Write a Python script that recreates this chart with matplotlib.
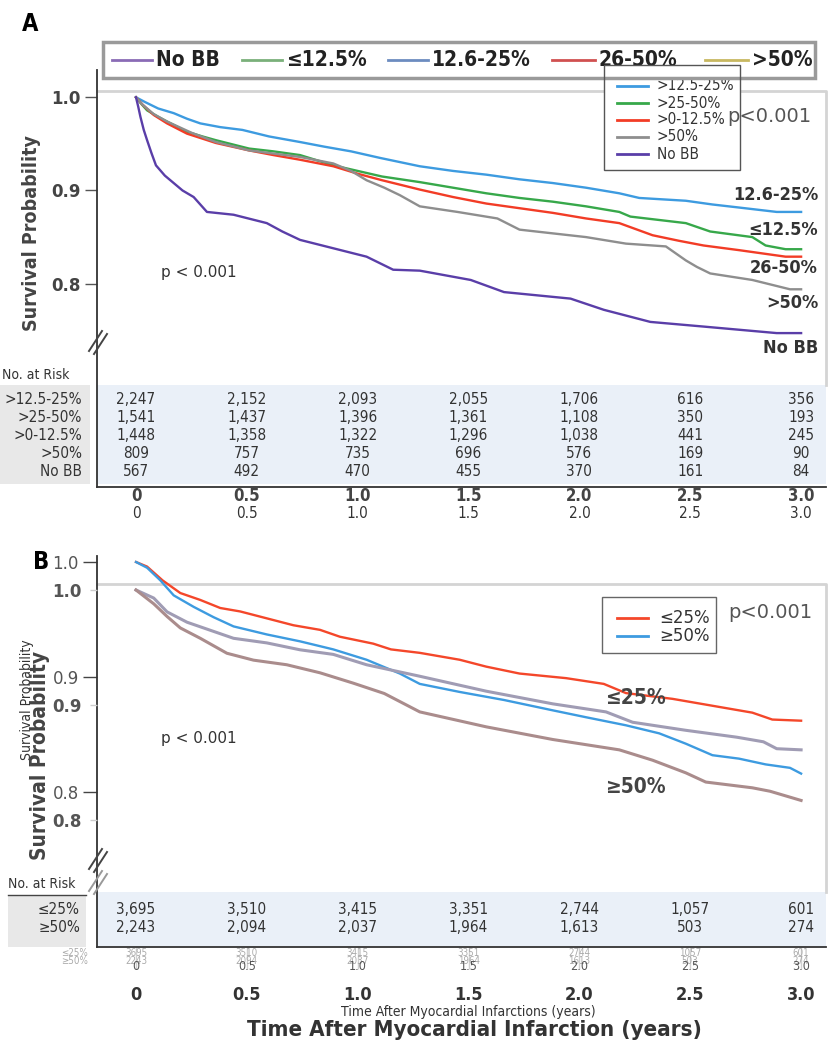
import matplotlib

matplotlib.use("Agg")
import matplotlib.pyplot as plt
import matplotlib.transforms as mtransforms
from matplotlib.lines import Line2D
from matplotlib.patches import Rectangle

# ---- data ----------------------------------------------------------------
years = [0, 0.5, 1.0, 1.5, 2.0, 2.5, 3.0]
year_labels = ["0", "0.5", "1.0", "1.5", "2.0", "2.5", "3.0"]

# panel A, five beta-blocker dose groups
a_names = [">12.5-25%", ">25-50%", ">0-12.5%", ">50%", "No BB"]
a_end_labels = ["12.6-25%", "≤12.5%", "26-50%", ">50%", "No BB"]

blue_a_t = [0, 0.04, 0.1, 0.17, 0.23, 0.29, 0.38, 0.48, 0.6, 0.74, 0.85, 0.97, 1.1, 1.28,
            1.43, 1.58, 1.73, 1.88, 2.03, 2.18, 2.27, 2.48, 2.6, 2.71, 2.89, 3.0]
blue_a_s = [1.0, 0.995, 0.988, 0.983, 0.977, 0.972, 0.968, 0.965, 0.958, 0.952, 0.947, 0.942,
            0.935, 0.926, 0.921, 0.917, 0.912, 0.908, 0.903, 0.897, 0.892, 0.889, 0.885, 0.882,
            0.877, 0.877]
green_a_t = [0, 0.02, 0.05, 0.1, 0.14, 0.23, 0.3, 0.36, 0.51, 0.62, 0.74, 0.89, 1.0, 1.11, 1.28,
             1.43, 1.58, 1.73, 1.88, 2.03, 2.18, 2.23, 2.48, 2.59, 2.78, 2.84, 2.93, 3.0]
green_a_s = [1.0, 0.994, 0.986, 0.979, 0.974, 0.963, 0.958, 0.954, 0.945, 0.942, 0.938, 0.927,
             0.921, 0.915, 0.909, 0.903, 0.897, 0.892, 0.888, 0.883, 0.877, 0.872, 0.865, 0.856,
             0.850, 0.841, 0.837, 0.837]
red_a_t = [0, 0.03, 0.08, 0.14, 0.23, 0.36, 0.51, 0.62, 0.74, 0.89, 1.0, 1.11, 1.28, 1.43, 1.58,
           1.73, 1.88, 2.03, 2.18, 2.33, 2.45, 2.56, 2.72, 2.81, 2.93, 3.0]
red_a_s = [1.0, 0.992, 0.981, 0.972, 0.961, 0.951, 0.943, 0.938, 0.933, 0.926, 0.918, 0.911,
           0.901, 0.893, 0.886, 0.881, 0.876, 0.870, 0.865, 0.852, 0.846, 0.841, 0.836, 0.833,
           0.829, 0.829]
gray_a_t = [0, 0.03, 0.08, 0.14, 0.25, 0.36, 0.51, 0.74, 0.89, 0.97, 1.04, 1.12, 1.19, 1.28, 1.45,
            1.63, 1.73, 2.03, 2.21, 2.39, 2.48, 2.53, 2.59, 2.78, 2.95, 3.0]
gray_a_s = [1.0, 0.992, 0.982, 0.974, 0.962, 0.952, 0.943, 0.936, 0.929, 0.921, 0.911, 0.903,
            0.895, 0.883, 0.877, 0.870, 0.858, 0.850, 0.843, 0.840, 0.825, 0.818, 0.811, 0.804,
            0.794, 0.794]
purple_a_t = [0, 0.01, 0.02, 0.035, 0.05, 0.07, 0.09, 0.13, 0.17, 0.21, 0.26, 0.32, 0.44, 0.59,
              0.66, 0.74, 0.89, 1.04, 1.16, 1.28, 1.51, 1.66, 1.96, 2.11, 2.32, 2.56, 2.89, 3.0]
purple_a_s = [1.0, 0.99, 0.979, 0.965, 0.954, 0.94, 0.927, 0.916, 0.908, 0.90, 0.893, 0.877,
              0.874, 0.865, 0.856, 0.847, 0.838, 0.829, 0.815, 0.814, 0.804, 0.791, 0.784, 0.772,
              0.759, 0.754, 0.747, 0.747]

risk_a = [
    [2247, 2152, 2093, 2055, 1706, 616, 356],
    [1541, 1437, 1396, 1361, 1108, 350, 193],
    [1448, 1358, 1322, 1296, 1038, 441, 245],
    [809, 757, 735, 696, 576, 169, 90],
    [567, 492, 470, 455, 370, 161, 84],
]
top_legend_names = ["No BB", "≤12.5%", "12.6-25%", "26-50%", ">50%"]

# panel B, two dose groups
b_names = ["≤25%", "≥50%"]
red_b_t = [0, 0.05, 0.12, 0.2, 0.29, 0.38, 0.47, 0.59, 0.71, 0.83, 0.92, 1.07, 1.15, 1.28, 1.46,
           1.58, 1.73, 1.94, 2.11, 2.21, 2.42, 2.57, 2.78, 2.87, 3.0]
red_b_s = [1.0, 0.996, 0.984, 0.973, 0.967, 0.960, 0.957, 0.951, 0.945, 0.941, 0.935, 0.929,
           0.924, 0.921, 0.915, 0.909, 0.903, 0.899, 0.894, 0.886, 0.881, 0.876, 0.869, 0.863,
           0.862]
blue_b_t = [0, 0.05, 0.11, 0.17, 0.26, 0.35, 0.44, 0.59, 0.74, 0.89, 1.04, 1.19, 1.28, 1.46, 1.66,
            1.88, 2.03, 2.21, 2.36, 2.48, 2.6, 2.72, 2.84, 2.95, 3.0]
blue_b_s = [1.0, 0.995, 0.984, 0.971, 0.961, 0.952, 0.944, 0.937, 0.931, 0.924, 0.915, 0.903,
            0.894, 0.887, 0.880, 0.871, 0.865, 0.858, 0.851, 0.842, 0.832, 0.829, 0.824, 0.821,
            0.816]
# faint second copy of panel B curves (own axis, shifted down)
ghost_hi_t = [0, 0.08, 0.14, 0.23, 0.35, 0.44, 0.59, 0.74, 0.89, 1.04, 1.28, 1.58, 1.88, 2.12,
              2.24, 2.48, 2.71, 2.83, 2.89, 3.0]
ghost_hi_s = [1.0, 0.993, 0.981, 0.972, 0.964, 0.958, 0.954, 0.948, 0.944, 0.935, 0.925, 0.912,
              0.901, 0.894, 0.885, 0.878, 0.872, 0.868, 0.862, 0.861]
ghost_lo_t = [0, 0.08, 0.14, 0.2, 0.29, 0.41, 0.53, 0.68, 0.83, 0.98, 1.12, 1.28, 1.58, 1.88,
              2.18, 2.33, 2.48, 2.57, 2.78, 2.86, 2.93, 3.0]
ghost_lo_s = [1.0, 0.988, 0.977, 0.967, 0.958, 0.945, 0.939, 0.935, 0.928, 0.919, 0.910, 0.894,
              0.881, 0.870, 0.861, 0.852, 0.841, 0.833, 0.828, 0.825, 0.821, 0.817]

risk_b = [
    [3695, 3510, 3415, 3351, 2744, 1057, 601],
    [2243, 2094, 2037, 1964, 1613, 503, 274],
]

# ---- layout helpers (pixel positions on an 840x1050 canvas) ---------------
W, H = 840, 1050
NK = dict(family="DejaVu Sans", stretch="condensed")
X0_PX, PX_PER_YEAR = 136, 221.7
AX_LEFT, AX_RIGHT = 97, 826


def fx(x):
    return x / W


def fy(y):
    return 1 - y / H


fig = plt.figure(figsize=(W / 100, H / 100), dpi=100)


def add_rect(x0, y0, x1, y1, **kw):
    r = Rectangle((fx(x0), fy(y1)), (x1 - x0) / W, (y1 - y0) / H,
                  transform=fig.transFigure, **kw)
    fig.add_artist(r)


def add_line(xs, ys, **kw):
    fig.add_artist(Line2D([fx(x) for x in xs], [fy(y) for y in ys],
                          transform=fig.transFigure, **kw))


def make_axes(top_px, bottom_px, s_top_px, px_per_unit):
    ax = fig.add_axes([fx(AX_LEFT), fy(bottom_px), (AX_RIGHT - AX_LEFT) / W,
                       (bottom_px - top_px) / H])
    ax.set_facecolor("none")
    ax.set_xlim((AX_LEFT - X0_PX) / PX_PER_YEAR, (AX_RIGHT - X0_PX) / PX_PER_YEAR)
    ax.set_ylim(1 - (bottom_px - s_top_px) / px_per_unit, 1 + (s_top_px - top_px) / px_per_unit)
    return ax


def break_marks(x, y, color="#444"):
    add_line([x - 9, x + 4], [y + 11, y - 9], color=color, lw=1.4)
    add_line([x - 4, x + 9], [y + 14, y - 6], color=color, lw=1.4)


# ======================= PANEL A ==========================================
axA = make_axes(70, 487, 97.3, 932)
trA = mtransforms.blended_transform_factory(axA.transData, fig.transFigure)

fig.text(fx(22), fy(24), "A", fontsize=17, fontweight="bold", va="center", **NK)

# light grey frame + risk table bands
add_line([AX_LEFT, AX_RIGHT, AX_RIGHT], [91, 91, 385], color="#d4d4d4", lw=2, zorder=-1)
add_rect(AX_LEFT, 385, AX_RIGHT, 484, facecolor="#eaf0f8", edgecolor="none", zorder=-2)
add_rect(0, 385, 90, 484, facecolor="#e8e8e8", edgecolor="none", zorder=-2)

a_series = [
    (blue_a_t, blue_a_s, "#3d9be0"),
    (green_a_t, green_a_s, "#37a84a"),
    (red_a_t, red_a_s, "#f23c26"),
    (gray_a_t, gray_a_s, "#8e8e8e"),
    (purple_a_t, purple_a_s, "#5a3ea8"),
]
for name, (t, s, c) in zip(a_names, a_series):
    axA.plot(t, s, color=c, lw=1.7, label=name)

for side in ["top", "right"]:
    axA.spines[side].set_visible(False)
for side in ["left", "bottom"]:
    axA.spines[side].set_color("#333")
    axA.spines[side].set_linewidth(1.3)
axA.set_yticks([0.8, 0.9, 1.0])
axA.set_yticklabels(["0.8", "0.9", "1.0"], fontsize=12, fontweight="bold", color="#444")
axA.tick_params(axis="y", length=9, width=1, color="#555", pad=3)
axA.set_xticks([])

fig.text(fx(32), fy(233), "Survival Probability", rotation=90, fontsize=14,
         fontweight="bold", color="#444", ha="center", va="center", **NK)
fig.text(fx(161), fy(273), "p < 0.001", fontsize=11, color="#333", va="center")
fig.text(fx(727), fy(117), "p<0.001", fontsize=14, color="#555", va="center")

# right-hand curve labels
for lab, y in zip(a_end_labels, [195, 230, 268, 303, 348]):
    fig.text(fx(818), fy(y), lab, fontsize=13, fontweight="bold",
             color="#333", ha="right", va="center", **NK)

# inner legend (box under the bold legend, edges on top)
add_rect(604, 65, 740, 170, facecolor="white", edgecolor="none", zorder=2)
for i, (name, (_, _, c)) in enumerate(zip(a_names, a_series)):
    y = 86 + 17 * i
    add_line([617, 648], [y, y], color=c, lw=2, zorder=3)
    fig.text(fx(657), fy(y), name, fontsize=11, color="#333", va="center", zorder=3, **NK)

# bold legend across the top
add_rect(103, 42, 815, 78, facecolor="white", edgecolor="#9a9a9a", lw=2.5, zorder=4)
top_colors = ["#8a6bb5", "#7ab07a", "#6c8cc0", "#d05050", "#c8b860"]
top_x = [(112, 152), (242, 282), (388, 428), (552, 595), (705, 748)]
for name, c, (x0, x1) in zip(top_legend_names, top_colors, top_x):
    add_line([x0, x1], [60, 60], color=c, lw=2, zorder=5)
    fig.text(fx(x1 + 4), fy(60), name, fontsize=15, fontweight="bold",
             color="#222", va="center", zorder=5, **NK)
add_rect(604, 65, 740, 170, facecolor="none", edgecolor="#555", lw=1, zorder=6)

break_marks(98, 340)

# risk table
fig.text(fx(2), fy(375), "No. at Risk", fontsize=10, color="#333", va="center", **NK)
for i, (name, row) in enumerate(zip(a_names, risk_a)):
    y = 399 + 18 * i
    fig.text(fx(82), fy(y), name, fontsize=11, color="#333",
             ha="right", va="center", **NK)
    for t, n in zip(years, row):
        fig.text(t, fy(y), f"{n:,}", transform=trA, fontsize=11,
                 color="#333", ha="center", va="center", **NK)

for t, lab in zip(years, year_labels):
    fig.text(t, fy(496), lab, transform=trA, fontsize=12, fontweight="bold",
             color="#444", ha="center", va="center", **NK)
    fig.text(t, fy(513), lab, transform=trA, fontsize=11,
             color="#333", ha="center", va="center", **NK)

# ======================= PANEL B ==========================================
axB = make_axes(556, 947, 562, 1150)
axG = make_axes(556, 947, 590, 1150)
trB = mtransforms.blended_transform_factory(axB.transData, fig.transFigure)

fig.text(fx(33), fy(562), "B", fontsize=17, fontweight="bold", va="center", **NK)

add_line([AX_LEFT, AX_RIGHT, AX_RIGHT], [584, 584, 892], color="#d4d4d4", lw=2, zorder=-1)
add_rect(AX_LEFT, 892, AX_RIGHT, 946, facecolor="#eaf0f8", edgecolor="none", zorder=-2)
add_rect(8, 895, 86, 947, facecolor="#e8e8e8", edgecolor="none", zorder=-2)

axG.plot(ghost_hi_t, ghost_hi_s, color="#a09cb4", lw=2.2)
axG.plot(ghost_lo_t, ghost_lo_s, color="#aa8c8c", lw=2.2)
b_colors = ["#f4472a", "#3d9be0"]
axB.plot(red_b_t, red_b_s, color=b_colors[0], lw=1.7, label=b_names[0])
axB.plot(blue_b_t, blue_b_s, color=b_colors[1], lw=1.7, label=b_names[1])

for side in ["top", "right"]:
    axB.spines[side].set_visible(False)
for side in axG.spines:
    axG.spines[side].set_visible(False)
for side in ["left", "bottom"]:
    axB.spines[side].set_color("#333")
    axB.spines[side].set_linewidth(1.3)
axB.set_yticks([0.8, 0.9, 1.0])
axB.set_yticklabels(["0.8", "0.9", "1.0"], fontsize=12, color="#555")
axB.tick_params(axis="y", length=10, width=1, color="#444", pad=3)
axB.set_xticks(years)
axB.set_xticklabels([])
axB.tick_params(axis="x", length=16, width=1, color="#d0d0d0")
axG.set_xticks([])
axG.set_yticks([0.8, 0.9, 1.0])
axG.set_yticklabels(["0.8", "0.9", "1.0"], fontsize=12, fontweight="bold", color="#555")
axG.tick_params(axis="y", length=5, width=1, color="#ccc", pad=6)

fig.text(fx(27), fy(700), "Survival Probability", rotation=90, fontsize=10,
         color="#333", ha="center", va="center", **NK)
fig.text(fx(40), fy(755), "Survival Probability", rotation=90, fontsize=15,
         fontweight="bold", color="#444", ha="center", va="center", **NK)
fig.text(fx(161), fy(738), "p < 0.001", fontsize=11, color="#333", va="center")
fig.text(fx(728), fy(613), "p<0.001", fontsize=14, color="#555", va="center")
fig.text(fx(605), fy(698), b_names[0], fontsize=15, fontweight="bold",
         color="#444", va="center", **NK)
fig.text(fx(605), fy(787), b_names[1], fontsize=15, fontweight="bold",
         color="#444", va="center", **NK)

add_rect(602, 597, 716, 653, facecolor="white", edgecolor="#666", lw=1, zorder=3)
for i, (name, c) in enumerate(zip(b_names, b_colors)):
    y = 618 + 18 * i
    add_line([617, 648], [y, y], color=c, lw=2, zorder=4)
    fig.text(fx(659), fy(y), name, fontsize=12, color="#333", va="center", zorder=4)

break_marks(98, 858)
break_marks(98, 880, color="#999")

fig.text(fx(8), fy(884), "No. at Risk", fontsize=10, color="#333", va="center", **NK)
add_line([8, 86], [895, 895], color="#444", lw=1)
for i, (name, row) in enumerate(zip(b_names, risk_b)):
    y = 910 + 18 * i
    fig.text(fx(80), fy(y), name, fontsize=11, color="#333",
             ha="right", va="center", **NK)
    fig.text(fx(88), fy(953 + 8 * i), name, fontsize=7, color="#aaa",
             ha="right", va="center", **NK)
    for t, n in zip(years, row):
        fig.text(t, fy(y), f"{n:,}", transform=trB, fontsize=11,
                 color="#333", ha="center", va="center", **NK)
        fig.text(t, fy(953 + 8 * i), f"{n}", transform=trB, fontsize=7,
                 color="#aaa", ha="center", va="center", **NK)

for t, lab in zip(years, year_labels):
    fig.text(t, fy(966), lab, transform=trB, fontsize=9,
             color="#555", ha="center", va="center", **NK)
    fig.text(t, fy(995), lab, transform=trB, fontsize=13, fontweight="bold",
             color="#333", ha="center", va="center", **NK)

fig.text(fx(468), fy(1012), "Time After Myocardial Infarctions (years)", fontsize=10,
         color="#333", ha="center", va="center", **NK)
fig.text(fx(474), fy(1030), "Time After Myocardial Infarction (years)", fontsize=16,
         fontweight="bold", color="#333", ha="center", va="center", **NK)

fig.savefig("out.png", dpi=100)
